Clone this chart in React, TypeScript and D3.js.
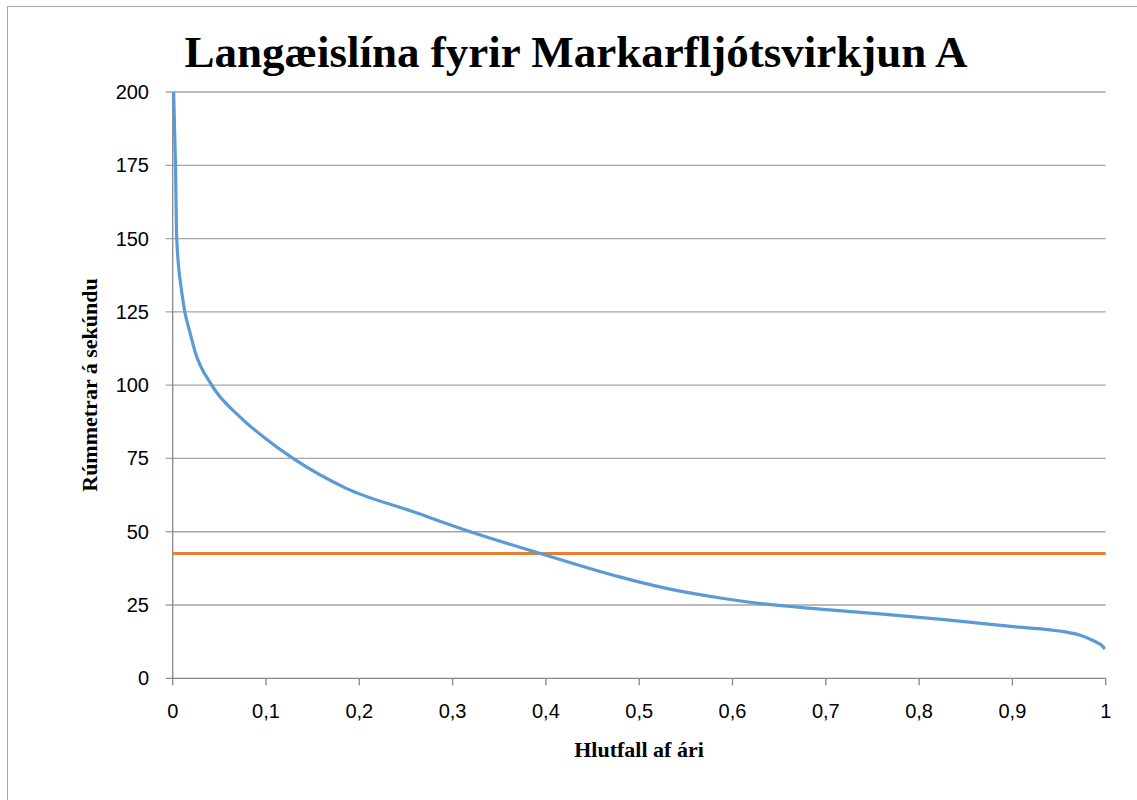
import React, { useEffect, useRef } from "react";
import * as d3 from "d3";

// lengdarferill (duration curve)
const fraction = [
  0.001, 0.003, 0.0043, 0.0096, 0.013, 0.0185, 0.0239, 0.0418, 0.072, 0.097,
  0.129, 0.186, 0.258, 0.319, 0.394, 0.479, 0.533, 0.587, 0.63, 0.694, 0.758,
  0.83, 0.901, 0.955, 0.972, 0.987, 0.997, 0.999,
];
const flow = [
  200, 175, 150, 132, 125, 118, 111.5, 100, 89.2, 82.4, 75, 64.8, 56.8, 50,
  42.6, 34.6, 30.4, 27.4, 25.5, 23.6, 22.0, 19.9, 17.6, 15.9, 14.8, 12.8,
  10.8, 10,
];
const designX = [0, 1];
const designFlow = [42.6, 42.6];

const yTicks = [0, 25, 50, 75, 100, 125, 150, 175, 200];
const xTicks = [0, 0.1, 0.2, 0.3, 0.4, 0.5, 0.6, 0.7, 0.8, 0.9, 1];

const title = "Langæislína fyrir Markarfljótsvirkjun A";
const xTitle = "Hlutfall af ári";
const yTitle = "Rúmmetrar á sekúndu";

const App = () => {
  const ref = useRef<SVGSVGElement>(null);

  useEffect(() => {
    const svg = d3.select(ref.current);
    svg.selectAll("*").remove();

    const left = 172.7;
    const right = 1105.7;
    const top = 92;
    const bottom = 678.3;

    const x = d3.scaleLinear().domain([0, 1]).range([left, right]);
    const y = d3.scaleLinear().domain([0, 200]).range([bottom, top]);

    // outer frame
    svg
      .append("rect")
      .attr("x", 7.5)
      .attr("y", 6.5)
      .attr("width", 1200)
      .attr("height", 1000)
      .attr("fill", "none")
      .attr("stroke", "#a6a6a6")
      .attr("stroke-width", 1);

    // gridlines
    svg
      .append("g")
      .selectAll("line")
      .data(yTicks.filter((d) => d !== 0))
      .join("line")
      .attr("x1", left - 7)
      .attr("x2", right)
      .attr("y1", (d) => y(d))
      .attr("y2", (d) => y(d))
      .attr("stroke", "#a5a5a5")
      .attr("stroke-width", 1.3);

    // y axis
    svg
      .append("line")
      .attr("x1", left)
      .attr("x2", left)
      .attr("y1", top)
      .attr("y2", bottom)
      .attr("stroke", "#888")
      .attr("stroke-width", 1.3);

    // x axis + ticks
    svg
      .append("line")
      .attr("x1", left - 7)
      .attr("x2", right)
      .attr("y1", bottom)
      .attr("y2", bottom)
      .attr("stroke", "#888")
      .attr("stroke-width", 1.3);

    svg
      .append("g")
      .selectAll("line")
      .data(xTicks)
      .join("line")
      .attr("x1", (d) => x(d))
      .attr("x2", (d) => x(d))
      .attr("y1", bottom)
      .attr("y2", bottom + 7)
      .attr("stroke", "#888")
      .attr("stroke-width", 1.3);

    // tick labels
    svg
      .append("g")
      .selectAll("text")
      .data(yTicks)
      .join("text")
      .attr("x", 149)
      .attr("y", (d) => y(d))
      .attr("dy", "0.35em")
      .attr("text-anchor", "end")
      .style("font-family", "'Liberation Sans', Arial, sans-serif")
      .style("font-size", "20px")
      .text((d) => d);

    svg
      .append("g")
      .selectAll("text")
      .data(xTicks)
      .join("text")
      .attr("x", (d) => x(d))
      .attr("y", 711)
      .attr("dy", "0.35em")
      .attr("text-anchor", "middle")
      .style("font-family", "'Liberation Sans', Arial, sans-serif")
      .style("font-size", "20px")
      .text((d) => String(d).replace(".", ","));

    // orange line
    svg
      .append("path")
      .datum(designX.map((d, i) => [d, designFlow[i]] as [number, number]))
      .attr(
        "d",
        d3
          .line<[number, number]>()
          .x((d) => x(d[0]))
          .y((d) => y(d[1]))
      )
      .attr("fill", "none")
      .attr("stroke", "#ed7d31")
      .attr("stroke-width", 3);

    // duration curve
    svg
      .append("path")
      .datum(fraction.map((d, i) => [d, flow[i]] as [number, number]))
      .attr(
        "d",
        d3
          .line<[number, number]>()
          .x((d) => x(d[0]))
          .y((d) => y(d[1]))
          .curve(d3.curveMonotoneX)
      )
      .attr("fill", "none")
      .attr("stroke", "#5b9bd5")
      .attr("stroke-width", 3.2);

    // titles
    svg
      .append("text")
      .attr("x", 576)
      .attr("y", 67)
      .attr("text-anchor", "middle")
      .style("font-family", "'Liberation Serif', 'Times New Roman', serif")
      .style("font-weight", "bold")
      .style("font-size", "45px")
      .text(title);

    svg
      .append("text")
      .attr("x", 639)
      .attr("y", 757)
      .attr("text-anchor", "middle")
      .style("font-family", "'Liberation Serif', 'Times New Roman', serif")
      .style("font-weight", "bold")
      .style("font-size", "22px")
      .text(xTitle);

    svg
      .append("text")
      .attr("transform", "rotate(-90)")
      .attr("x", -385)
      .attr("y", 97)
      .attr("text-anchor", "middle")
      .style("font-family", "'Liberation Serif', 'Times New Roman', serif")
      .style("font-weight", "bold")
      .style("font-size", "22px")
      .text(yTitle);
  }, []);

  return (
    <svg
      ref={ref}
      width={1137}
      height={800}
      style={{ position: "absolute", top: 0, left: 0, background: "#fff" }}
    />
  );
};

export default App;
